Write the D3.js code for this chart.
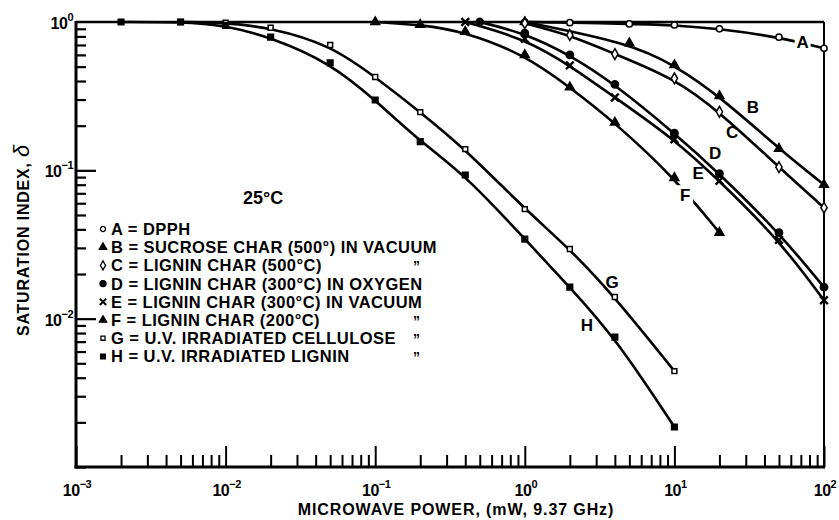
<!DOCTYPE html>
<html>
<head>
<meta charset="utf-8">
<script src="https://cdn.jsdelivr.net/npm/d3@7"></script>
<style>
  body { margin: 0; background: #fff; }
  text { font-family: "Liberation Sans", Arial, sans-serif; font-weight: bold; fill: #000; }
</style>
</head>
<body>
<svg id="chart" width="839" height="520"></svg>
<script>
// microwave power (mW) and saturation index for each sample
const powerA = [1, 2, 5, 10, 20, 50, 100];
const deltaA = [1.0, 0.99, 0.97, 0.955, 0.90, 0.79, 0.665];

const powerB = [1, 5, 10, 20, 50, 100];
const deltaB = [1.0, 0.72, 0.513, 0.317, 0.14, 0.08];

const powerC = [1, 2, 4, 10, 20, 50, 100];
const deltaC = [0.98, 0.817, 0.608, 0.417, 0.248, 0.105, 0.056];

const powerD = [0.5, 1, 2, 4, 10, 20, 50, 100];
const deltaD = [1.0, 0.84, 0.6, 0.38, 0.178, 0.095, 0.038, 0.0163];

const powerE = [0.4, 1, 2, 4, 10, 20, 50, 100];
const deltaE = [1.0, 0.77, 0.51, 0.31, 0.162, 0.085, 0.034, 0.0133];

const powerF = [0.1, 0.2, 0.4, 1, 2, 4, 10, 20];
const deltaF = [1.0, 0.96, 0.86, 0.6, 0.363, 0.21, 0.089, 0.038];

const powerG = [0.005, 0.01, 0.02, 0.05, 0.1, 0.2, 0.4, 1, 2, 4, 10];
const deltaG = [1.0, 0.99, 0.915, 0.7, 0.426, 0.247, 0.139, 0.0548, 0.0295, 0.014, 0.00443];

const powerH = [0.002, 0.005, 0.01, 0.02, 0.05, 0.1, 0.2, 0.4, 1, 2, 4, 10];
const deltaH = [1.0, 1.0, 0.95, 0.79, 0.53, 0.298, 0.156, 0.093, 0.0344, 0.0163, 0.0075, 0.00186];

const seriesKeys = ["A", "B", "C", "D", "E", "F", "G", "H"];
const legendNames = [
  "A = DPPH",
  "B = SUCROSE CHAR (500\u00b0) IN VACUUM",
  "C = LIGNIN CHAR (500\u00b0C)",
  "D = LIGNIN CHAR (300\u00b0C) IN OXYGEN",
  "E = LIGNIN CHAR (300\u00b0C) IN VACUUM",
  "F = LIGNIN CHAR (200\u00b0C)",
  "G = U.V. IRRADIATED CELLULOSE",
  "H = U.V. IRRADIATED LIGNIN"
];
const dittoRows = ["C", "F", "G", "H"];

// where the curve letters sit, in data units (power, delta)
const labelPower = [72, 33.5, 24.3, 18.7, 14.4, 11.8, 3.83, 2.6];
const labelDelta = [0.733, 0.267, 0.181, 0.131, 0.096, 0.068, 0.0177, 0.00905];

const xMajor = [1e-3, 1e-2, 1e-1, 1e0, 1e1, 1e2];
const yMajor = [1e-2, 1e-1, 1e0];
const xTitle = "MICROWAVE POWER, (mW, 9.37 GHz)";
const yTitle = "SATURATION INDEX, ";

const powers = [powerA, powerB, powerC, powerD, powerE, powerF, powerG, powerH];
const deltas = [deltaA, deltaB, deltaC, deltaD, deltaE, deltaF, deltaG, deltaH];

const svg = d3.select("#chart");

const x = d3.scaleLog().domain([1e-3, 1e2]).range([76, 824]);
const y = d3.scaleLog().domain([1e-3, 1]).range([467, 22]);

// marker styles
const markerStyle = {
  A: { type: d3.symbolCircle, size: 30, fill: "#fff" },
  B: { type: d3.symbolTriangle, size: 34, fill: "#000" },
  C: { type: d3.symbolDiamond, size: 34, fill: "#fff" },
  D: { type: d3.symbolCircle, size: 42, fill: "#000" },
  E: { type: d3.symbolTimes, size: 40, fill: "none" },
  F: { type: d3.symbolTriangle, size: 34, fill: "#000" },
  G: { type: d3.symbolSquare, size: 24, fill: "#fff" },
  H: { type: d3.symbolSquare, size: 32, fill: "#000" }
};

// ticks: minor ticks 2..9 each decade, major at the decades
const xMinor = x.ticks().filter((v) => !xMajor.some((m) => Math.abs(v / m - 1) < 1e-9));
const yMinor = y.ticks().filter((v) => !yMajor.some((m) => Math.abs(v / m - 1) < 1e-9) && v < 1);

const bottomMinor = d3.axisTop(x).tickValues(xMinor).tickSize(12).tickFormat("");
const bottomMajor = d3.axisTop(x).tickValues(xMajor).tickSize(21).tickFormat("");
const leftMinor = d3.axisRight(y).tickValues(yMinor).tickSize(10).tickFormat("");
const leftMajor = d3.axisRight(y).tickValues(yMajor.filter((v) => v < 1)).tickSize(20).tickFormat("");

[bottomMinor, bottomMajor].forEach((ax) => {
  svg.append("g").attr("transform", `translate(0,${y(1e-3)})`).call(ax)
    .call((g) => g.select(".domain").remove())
    .selectAll("line").attr("stroke", "#000").attr("stroke-width", 2);
});
[leftMinor, leftMajor].forEach((ax) => {
  svg.append("g").attr("transform", `translate(${x(1e-3)},0)`).call(ax)
    .call((g) => g.select(".domain").remove())
    .selectAll("line").attr("stroke", "#000").attr("stroke-width", 2.2);
});

// frame
const frame = svg.append("g").attr("stroke", "#000").attr("fill", "none");
frame.append("line").attr("x1", x(1e-3)).attr("x2", x(1e-3)).attr("y1", y(1) - 1).attr("y2", y(1e-3) + 1.5).attr("stroke-width", 3);
frame.append("line").attr("x1", x(1e-3) - 1.5).attr("x2", x(1e2) + 1).attr("y1", y(1e-3)).attr("y2", y(1e-3)).attr("stroke-width", 3);
frame.append("line").attr("x1", x(1e-3)).attr("x2", x(1e2)).attr("y1", y(1)).attr("y2", y(1)).attr("stroke-width", 2.6);
frame.append("line").attr("x1", x(1e2)).attr("x2", x(1e2)).attr("y1", y(1)).attr("y2", y(1e-3)).attr("stroke-width", 2);

// tick labels: "10" with a raised exponent
function powLabel(sel, v) {
  const e = Math.round(Math.log10(v));
  sel.append("tspan").text("10");
  sel.append("tspan").attr("dy", -8).attr("font-size", 11).text(e === 0 ? "0" : String(e).replace("-", "\u2212"));
}
xMajor.forEach((v) => {
  const t = svg.append("text").attr("x", x(v) + 1).attr("y", 496)
    .attr("text-anchor", "middle").attr("font-size", 16).attr("letter-spacing", -0.5);
  powLabel(t, v);
});
yMajor.forEach((v) => {
  const t = svg.append("text").attr("x", 73).attr("y", y(v) + 7)
    .attr("text-anchor", "end").attr("font-size", 16).attr("letter-spacing", -0.5);
  powLabel(t, v);
});

// axis titles
svg.append("text").attr("x", 456).attr("y", 515).attr("text-anchor", "middle")
  .attr("font-size", 16).attr("letter-spacing", 0.9).text(xTitle);
const yt = svg.append("text").attr("transform", "translate(29,240) rotate(-90)")
  .attr("text-anchor", "middle").attr("font-size", 16).attr("letter-spacing", 0.8);
yt.append("tspan").text(yTitle);
yt.append("tspan").attr("font-size", 22).attr("font-style", "italic").attr("font-weight", "normal").text("\u03b4");

// curves
const line = d3.line()
  .x((d) => x(d[0]))
  .y((d) => y(d[1]))
  .curve(d3.curveBasis);

const curves = svg.append("g");
seriesKeys.forEach((k, i) => {
  const pts = powers[i].map((p, j) => [p, deltas[i][j]]);
  curves.append("path").datum(pts)
    .attr("d", line)
    .attr("fill", "none")
    .attr("stroke", "#000")
    .attr("stroke-width", 2.6);
});

// curve letters (A and F interrupt their line)
seriesKeys.forEach((k, i) => {
  const lx = x(labelPower[i]), ly = y(labelDelta[i]);
  if (k === "A" || k === "F") {
    svg.append("rect").attr("x", lx - 8).attr("y", ly - 10).attr("width", 16).attr("height", 20).attr("fill", "#fff");
  }
  svg.append("text").attr("x", lx).attr("y", ly + 6).attr("text-anchor", "middle")
    .attr("font-size", 17).text(k);
});

// markers
const symbolPath = (k) => d3.symbol().type(markerStyle[k].type).size(markerStyle[k].size)();
seriesKeys.forEach((k, i) => {
  const st = markerStyle[k];
  curves.selectAll(null)
    .data(powers[i].map((p, j) => [p, deltas[i][j]]))
    .join("path")
    .attr("transform", (d) => `translate(${x(d[0])},${y(d[1])})`)
    .attr("d", symbolPath(k))
    .attr("fill", st.fill)
    .attr("stroke", "#000")
    .attr("stroke-width", k === "E" ? 2.4 : 1.5);
});

// legend
svg.append("text").attr("x", x(0.0178)).attr("y", y(0.066) + 7).attr("text-anchor", "middle")
  .attr("font-size", 18).text("25\u00b0C");

const legend = svg.append("g").attr("transform", "translate(103,229)");
seriesKeys.forEach((k, i) => {
  const row = legend.append("g").attr("transform", `translate(0,${i * 18.2})`);
  const st = markerStyle[k];
  row.append("path").attr("d", d3.symbol().type(st.type).size(st.size * 0.7)())
    .attr("fill", st.fill).attr("stroke", "#000").attr("stroke-width", k === "E" ? 2 : 1.3);
  row.append("text").attr("x", 8).attr("y", 6).attr("font-size", 16.5)
    .attr("letter-spacing", 0.45).text(legendNames[i]);
  if (dittoRows.includes(k)) {
    row.append("text").attr("x", 310).attr("y", 6).attr("font-size", 14).text("\u201d");
  }
});
</script>
</body>
</html>
